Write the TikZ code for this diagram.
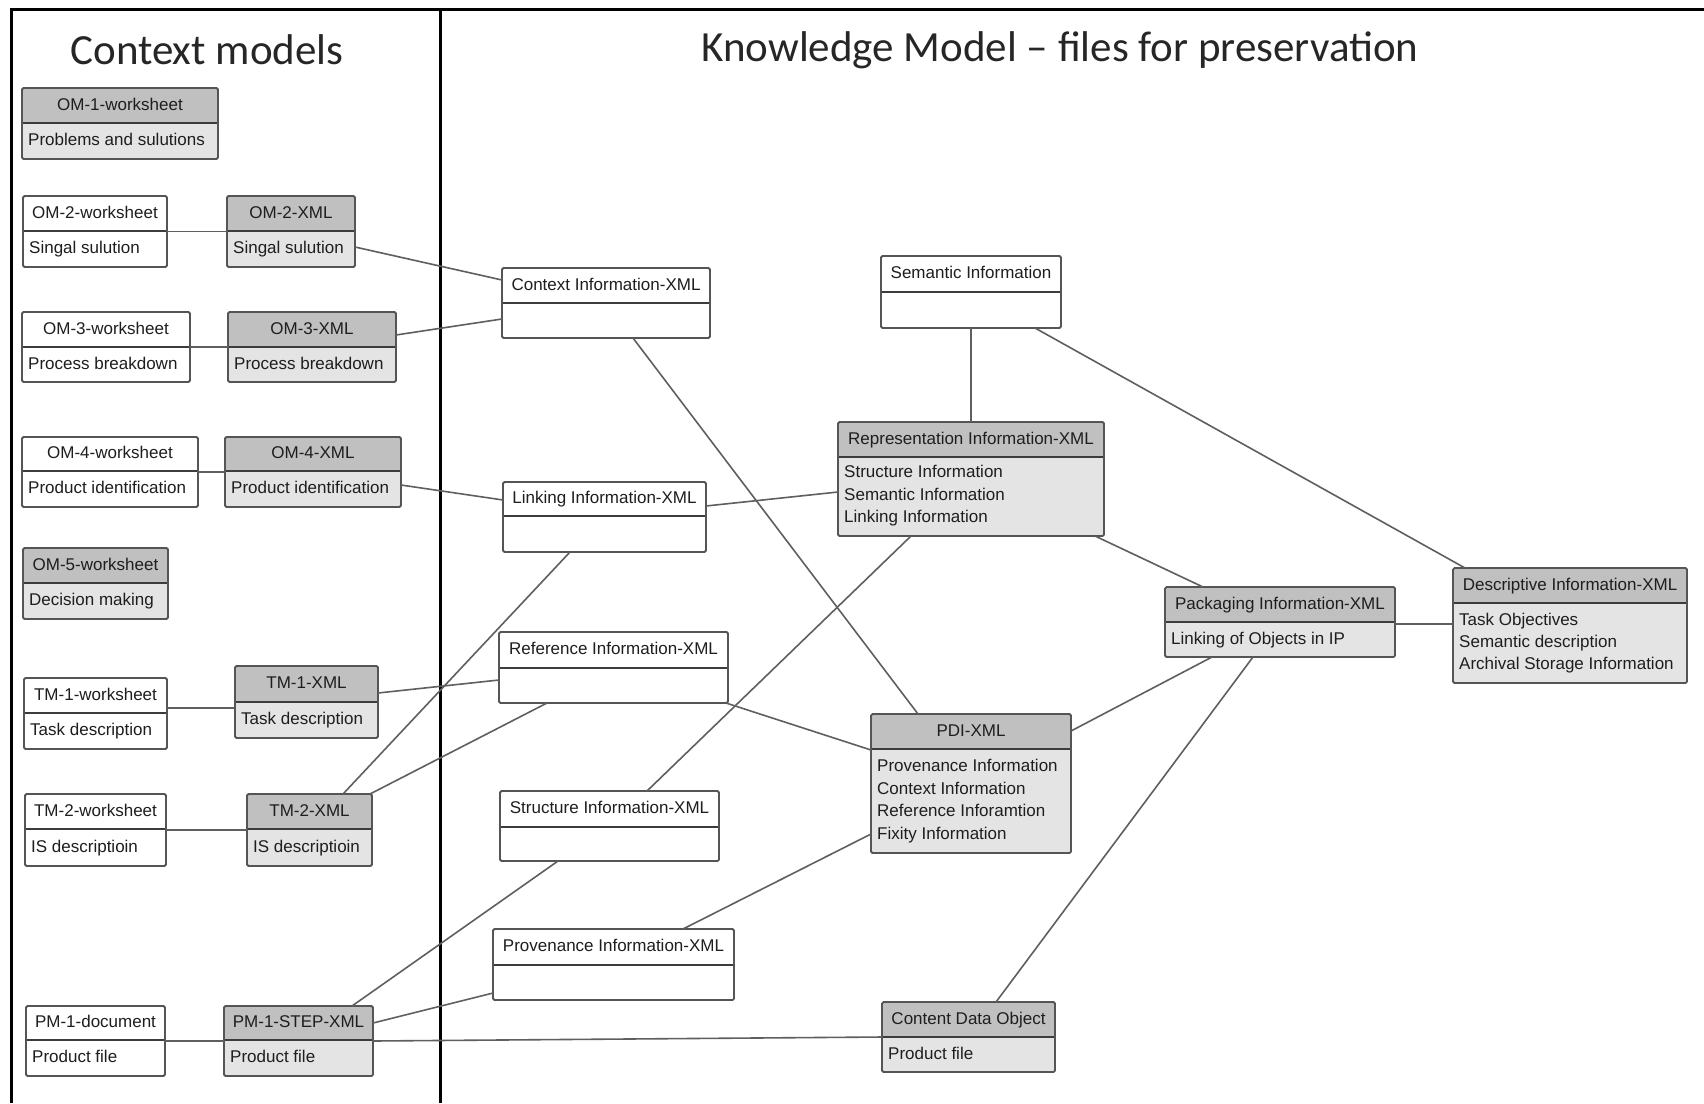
\documentclass[tikz,border=0pt]{standalone}
\usepackage{fontspec}
\setmainfont{Liberation Sans}
\newfontfamily\titlefont{Carlito}
\usetikzlibrary{fit}

\definecolor{hdrgray}{RGB}{192,192,192}
\definecolor{bodygray}{RGB}{228,228,228}
\definecolor{edgegray}{RGB}{85,85,85}
\definecolor{rulegray}{RGB}{60,60,60}
\definecolor{wiregray}{RGB}{95,95,95}
\definecolor{inkgray}{RGB}{30,30,30}

\tikzset{
  boxline/.style={draw=edgegray, line width=1.8pt, rounded corners=1.5pt},
  divline/.style={draw=rulegray, line width=2.2pt},
  hdr/.style={fill=hdrgray},
  bdy/.style={fill=bodygray},
  wht/.style={fill=white},
  htxt/.style={font=\fontsize{17}{20}\selectfont, text=inkgray, inner sep=0pt,
               text height=12.5pt, text depth=3.5pt},
  btxt/.style={htxt, anchor=west},
  wire/.style={draw=wiregray, line width=1.6pt},
  frame/.style={draw=black, line width=3pt},
  title/.style={font=\titlefont\fontsize{43}{50}\selectfont, text=black!85, inner sep=0pt},
}

% two-compartment class box:
% #1 name, #2 #3 top-left, #4 #5 bottom-right, #6 divider y,
% #7 header fill, #8 body fill, #9 header text
\newcommand\umlbox[9]{%
  \node[fit={(#2,#3) (#4,#5)}, inner sep=0pt, outer sep=0pt] (#1) {};
  \fill[#8] (#2,#6) rectangle (#4,#5);
  \fill[#7] (#2,#3) rectangle (#4,#6);
  \draw[divline] (#2,#6) -- (#4,#6);
  \draw[boxline] (#2,#3) rectangle (#4,#5);
  \node[htxt] (#1-title) at ({(#2+#4)/2},{(#3+#6)/2}) {#9};
}
% one line of compartment text: #1 name, #2 #3 left-centre point, #4 text
\newcommand\umlline[4]{\node[btxt] (#1) at (#2,#3) {#4};}

\begin{document}
\begin{tikzpicture}[x=1pt, y=-1pt]
\useasboundingbox (0,0) rectangle (1704,1103);
\fill[white] (0,0) rectangle (1704,1103);

% ---------- frame and titles ----------
\draw[frame] (11,1103) -- (11,9) -- (1704,9);
\draw[frame] (440,9) -- (440,1103);
\node[title] (ttl-ctx) at (207,50) {Context models};
\node[title] (ttl-km) at (1060,50) {Knowledge Model – files for preservation};

% ---------- context models ----------
\umlbox{om1}{22}{88}{218}{159}{123}{hdr}{bdy}{OM-1-worksheet}
\umlline{om1-b}{28}{141}{Problems and sulutions}

\umlbox{om2w}{23}{196}{167}{267}{231}{wht}{wht}{OM-2-worksheet}
\umlline{om2w-b}{29}{249}{Singal sulution}
\umlbox{om2x}{227}{196}{355}{267}{231}{hdr}{bdy}{OM-2-XML}
\umlline{om2x-b}{233}{249}{Singal sulution}

\umlbox{om3w}{22}{312}{190}{382}{347}{wht}{wht}{OM-3-worksheet}
\umlline{om3w-b}{28}{364.5}{Process breakdown}
\umlbox{om3x}{228}{312}{396}{382}{347}{hdr}{bdy}{OM-3-XML}
\umlline{om3x-b}{234}{364.5}{Process breakdown}

\umlbox{om4w}{22}{437}{198}{507}{471}{wht}{wht}{OM-4-worksheet}
\umlline{om4w-b}{28}{489}{Product identification}
\umlbox{om4x}{225}{437}{401}{507}{471}{hdr}{bdy}{OM-4-XML}
\umlline{om4x-b}{231}{489}{Product identification}

\umlbox{om5}{23}{548}{168}{619}{583}{hdr}{bdy}{OM-5-worksheet}
\umlline{om5-b}{29}{601}{Decision making}

\umlbox{tm1w}{24}{678}{167}{749}{713}{wht}{wht}{TM-1-worksheet}
\umlline{tm1w-b}{30}{731}{Task description}
\umlbox{tm1x}{235}{666}{378}{738}{702}{hdr}{bdy}{TM-1-XML}
\umlline{tm1x-b}{241}{720}{Task description}

\umlbox{tm2w}{25}{794}{166}{866}{829}{wht}{wht}{TM-2-worksheet}
\umlline{tm2w-b}{31}{847.5}{IS descriptioin}
\umlbox{tm2x}{247}{794}{372}{866}{829}{hdr}{bdy}{TM-2-XML}
\umlline{tm2x-b}{253}{847.5}{IS descriptioin}

\umlbox{pm1d}{26}{1006}{165}{1076}{1040}{wht}{wht}{PM-1-document}
\umlline{pm1d-b}{32}{1058}{Product file}
\umlbox{pm1x}{224}{1006}{373}{1076}{1040}{hdr}{bdy}{PM-1-STEP-XML}
\umlline{pm1x-b}{230}{1058}{Product file}

% ---------- knowledge model ----------
\umlbox{ctx}{502}{268}{710}{338}{303}{wht}{wht}{Context Information-XML}
\umlbox{lnk}{503}{482}{706}{552}{516}{wht}{wht}{Linking Information-XML}
\umlbox{ref}{499}{632}{728}{703}{668}{wht}{wht}{Reference Information-XML}
\umlbox{str}{500}{791}{719}{861}{827}{wht}{wht}{Structure Information-XML}
\umlbox{prv}{493}{929}{734}{1000}{965}{wht}{wht}{Provenance Information-XML}
\umlbox{sem}{881}{256}{1061}{328}{292}{wht}{wht}{Semantic Information}

\umlbox{rep}{838}{422}{1104}{536}{457}{hdr}{bdy}{Representation Information-XML}
\umlline{rep-b1}{844}{473}{Structure Information}
\umlline{rep-b2}{844}{495.5}{Semantic Information}
\umlline{rep-b3}{844}{518}{Linking Information}

\umlbox{pdi}{871}{714}{1071}{853}{749}{hdr}{bdy}{PDI-XML}
\umlline{pdi-b1}{877}{767}{Provenance Information}
\umlline{pdi-b2}{877}{789.5}{Context Information}
\umlline{pdi-b3}{877}{812}{Reference Inforamtion}
\umlline{pdi-b4}{877}{834.5}{Fixity Information}

\umlbox{cdo}{882}{1002}{1055}{1072}{1037}{hdr}{bdy}{Content Data Object}
\umlline{cdo-b}{888}{1054.5}{Product file}

\umlbox{pkg}{1165}{587}{1395}{657}{622}{hdr}{bdy}{Packaging Information-XML}
\umlline{pkg-b}{1171}{639.5}{Linking of Objects in IP}

\umlbox{dsc}{1453}{568}{1687}{683}{603}{hdr}{bdy}{Descriptive Information-XML}
\umlline{dsc-b1}{1459}{621}{Task Objectives}
\umlline{dsc-b2}{1459}{643}{Semantic description}
\umlline{dsc-b3}{1459}{665}{Archival Storage Information}

% ---------- connectors ----------
\draw[wire] (om2w.east) -- (om2x.west);
\draw[wire] (om3w.east) -- (om3x.west);
\draw[wire] (om4w.east) -- (om4x.west);
\draw[wire] ([yshift=-30pt]tm1w.north east) -- ([yshift=-42pt]tm1x.north west);
\draw[wire] (tm2w.east) -- (tm2x.west);
\draw[wire] (pm1d.east) -- (pm1x.west);
\draw[wire] (pm1x.east) -- (cdo.west);

\draw[wire] ([yshift=-51pt]om2x.north east) -- ([yshift=-12pt]ctx.north west);
\draw[wire] ([yshift=-23pt]om3x.north east) -- ([yshift=-51pt]ctx.north west);
\draw[wire] ([yshift=-48pt]om4x.north east) -- ([yshift=-18pt]lnk.north west);
\draw[wire] ([yshift=-24pt]lnk.north east) -- ([yshift=-70pt]rep.north west);
\draw[wire] ([xshift=131pt]ctx.south west) -- ([xshift=47pt]pdi.north west);
\draw[wire] ([xshift=67pt]lnk.south west) -- ([xshift=96pt]tm2x.north west);
\draw[wire] ([yshift=-27pt]tm1x.north east) -- ([yshift=-48pt]ref.north west);
\draw[wire] ([xshift=48pt]ref.south west) -- ([xshift=-2pt]tm2x.north east);
\draw[wire] ([xshift=-2pt]ref.south east) -- ([yshift=-36pt]pdi.north west);
\draw[wire] ([xshift=73pt]rep.south west) -- ([xshift=147pt]str.north west);
\draw[wire] ([xshift=58pt]str.south west) -- ([xshift=-21pt]pm1x.north east);
\draw[wire] ([yshift=-64pt]prv.north west) -- ([yshift=-17pt]pm1x.north east);
\draw[wire] ([xshift=190pt]prv.north west) -- ([yshift=-120pt]pdi.north west);
\draw[wire] (sem.south) -- (rep.north);
\draw[wire] ([xshift=-26pt]sem.south east) -- ([xshift=12pt]dsc.north west);
\draw[wire] ([xshift=-9pt]rep.south east) -- ([xshift=38pt]pkg.north west);
\draw[wire] ([yshift=-17pt]pdi.north east) -- ([xshift=47pt]pkg.south west);
\draw[wire] ([xshift=114pt]cdo.north west) -- ([xshift=88pt]pkg.south west);
\draw[wire] ([yshift=-37pt]pkg.north east) -- ([yshift=-56pt]dsc.north west);
\end{tikzpicture}
\end{document}
